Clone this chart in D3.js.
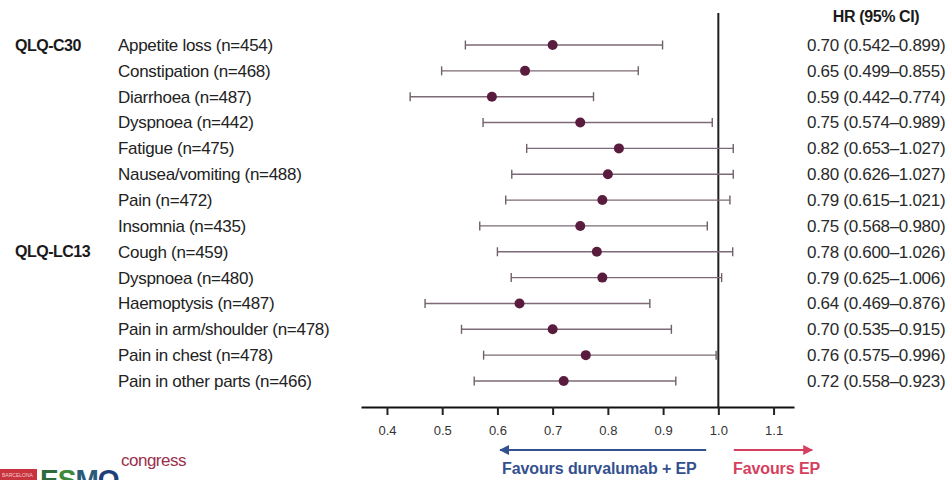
<!DOCTYPE html>
<html>
<head>
<meta charset="utf-8">
<script src="https://cdn.jsdelivr.net/npm/d3@7"></script>
<style>
  html, body { margin: 0; padding: 0; background: #fff; }
  svg { display: block; }
  text { font-family: "Liberation Sans", Arial, sans-serif; }
</style>
</head>
<body>
<svg id="chart" width="948" height="480"></svg>
<script>
// Symptom endpoints (time to deterioration) and hazard ratios with 95% CI
const categories = [
  "Appetite loss (n=454)", "Constipation (n=468)", "Diarrhoea (n=487)",
  "Dyspnoea (n=442)", "Fatigue (n=475)", "Nausea/vomiting (n=488)",
  "Pain (n=472)", "Insomnia (n=435)", "Cough (n=459)", "Dyspnoea (n=480)",
  "Haemoptysis (n=487)", "Pain in arm/shoulder (n=478)",
  "Pain in chest (n=478)", "Pain in other parts (n=466)"
];
const hr    = [0.70, 0.65, 0.59, 0.75, 0.82, 0.80, 0.79, 0.75, 0.78, 0.79, 0.64, 0.70, 0.76, 0.72];
const ciLow = [0.542, 0.499, 0.442, 0.574, 0.653, 0.626, 0.615, 0.568, 0.600, 0.625, 0.469, 0.535, 0.575, 0.558];
const ciHigh= [0.899, 0.855, 0.774, 0.989, 1.027, 1.027, 1.021, 0.980, 1.026, 1.006, 0.876, 0.915, 0.996, 0.923];
const groups = [{ name: "QLQ-C30", row: 0 }, { name: "QLQ-LC13", row: 8 }];
const tickValues = [0.4, 0.5, 0.6, 0.7, 0.8, 0.9, 1.0, 1.1];

const svg = d3.select("#chart");
const x = d3.scaleLinear().domain([0.353, 1.137]).range([361, 794]);
const y = d3.scalePoint().domain(d3.range(categories.length)).range([45, 381]);
const axisY = 407;

const rows = categories.map((c, i) => ({ label: c, hr: hr[i], lo: ciLow[i], hi: ciHigh[i], i }));
const fmt = d3.format(".2f"), fmt3 = d3.format(".3f");

// reference line at HR = 1
svg.append("line")
  .attr("x1", x(1)).attr("x2", x(1))
  .attr("y1", 13).attr("y2", axisY)
  .attr("stroke", "#1e1e1e").attr("stroke-width", 2);

// confidence intervals
const g = svg.append("g");
const row = g.selectAll("g.row").data(rows).join("g").attr("class", "row")
  .attr("transform", d => `translate(0,${y(d.i)})`);
row.append("line")
  .attr("x1", d => x(d.lo)).attr("x2", d => x(d.hi))
  .attr("stroke", "#7d6a76").attr("stroke-width", 1.4);
row.append("line").attr("x1", d => x(d.lo)).attr("x2", d => x(d.lo))
  .attr("y1", -4.5).attr("y2", 4.5).attr("stroke", "#6f6069").attr("stroke-width", 1.4);
row.append("line").attr("x1", d => x(d.hi)).attr("x2", d => x(d.hi))
  .attr("y1", -4.5).attr("y2", 4.5).attr("stroke", "#6f6069").attr("stroke-width", 1.4);
row.append("circle")
  .attr("cx", d => x(d.hr)).attr("r", 5)
  .attr("fill", "#5a1c3e");

// row labels
row.append("text")
  .attr("x", 118).attr("dy", "0.35em")
  .attr("font-size", 17).attr("fill", "#222")
  .attr("letter-spacing", "-0.3")
  .text(d => d.label);

// HR (95% CI) column
row.append("text")
  .attr("x", 807).attr("dy", "0.35em")
  .attr("font-size", 17).attr("fill", "#2a2a2a")
  .attr("letter-spacing", "-0.3")
  .text(d => `${fmt(d.hr)} (${fmt3(d.lo)}\u2013${fmt3(d.hi)})`);

svg.append("text")
  .attr("x", 876).attr("y", 16).attr("dy", "0.35em")
  .attr("text-anchor", "middle").attr("font-size", 16).attr("font-weight", "bold")
  .attr("fill", "#1a1a1a").attr("letter-spacing", "-0.4")
  .text("HR (95% CI)");

// questionnaire group labels
svg.selectAll("text.grp").data(groups).join("text").attr("class", "grp")
  .attr("x", 15).attr("y", d => y(d.row)).attr("dy", "0.35em")
  .attr("font-size", 16).attr("font-weight", "bold").attr("fill", "#1a1a1a")
  .attr("letter-spacing", "-0.5")
  .text(d => d.name);

// x axis
const axis = svg.append("g")
  .attr("transform", `translate(0,${axisY})`)
  .call(d3.axisBottom(x).tickValues(tickValues).tickFormat(d3.format(".1f")).tickSize(8).tickSizeOuter(0));
axis.select(".domain").attr("stroke", "#111").attr("stroke-width", 2.2);
axis.selectAll(".tick line").attr("stroke", "#222").attr("stroke-width", 2);
axis.selectAll(".tick text")
  .attr("font-family", "Liberation Sans, Arial, sans-serif")
  .attr("font-size", 13).attr("fill", "#333").attr("y", 19);

// direction arrows
const defs = svg.append("defs");
function marker(id, color) {
  defs.append("marker").attr("id", id)
    .attr("viewBox", "0 0 10 10").attr("refX", 9).attr("refY", 5)
    .attr("markerWidth", 5).attr("markerHeight", 5).attr("orient", "auto")
    .append("path").attr("d", "M0,0 L10,5 L0,10 z").attr("fill", color);
}
const blue = "#34508f", red = "#d63f5e";
marker("arrBlue", blue);
marker("arrRed", red);
svg.append("line")
  .attr("x1", x(0.978)).attr("x2", x(0.605)).attr("y1", 450).attr("y2", 450)
  .attr("stroke", blue).attr("stroke-width", 2).attr("marker-end", "url(#arrBlue)");
svg.append("line")
  .attr("x1", x(1.028)).attr("x2", x(1.17)).attr("y1", 450).attr("y2", 450)
  .attr("stroke", red).attr("stroke-width", 2).attr("marker-end", "url(#arrRed)");
svg.append("text")
  .attr("x", 502).attr("y", 468).attr("dy", "0.35em")
  .attr("font-family", "'Open Sans', 'Liberation Sans', sans-serif")
  .attr("font-size", 16).attr("font-weight", 600).attr("fill", blue)
  .attr("letter-spacing", "-0.1")
  .text("Favours durvalumab + EP");
svg.append("text")
  .attr("x", 733).attr("y", 468).attr("dy", "0.35em")
  .attr("font-family", "'Open Sans', 'Liberation Sans', sans-serif")
  .attr("font-size", 16).attr("font-weight", 600).attr("fill", red)
  .attr("letter-spacing", "-0.1")
  .text("Favours EP");

// congress logo, lower left (runs off the bottom edge)
const logo = svg.append("g");
logo.append("rect").attr("x", 0).attr("y", 469).attr("width", 37).attr("height", 11).attr("fill", "#c8333d");
logo.append("text").attr("x", 2).attr("y", 477).attr("font-size", 5).attr("fill", "#f3c9cc").text("BARCELONA");
const esmo = [{ c: "E", col: "#2f6b3a" }, { c: "S", col: "#3c8a3a" }, { c: "M", col: "#2a5a7a" }, { c: "O", col: "#1f3f7a" }];
logo.append("text").attr("x", 40).attr("y", 489)
  .attr("font-size", 28).attr("font-weight", "bold").attr("letter-spacing", "-1")
  .selectAll("tspan").data(esmo).join("tspan")
  .attr("fill", d => d.col)
  .text(d => d.c);
logo.append("text").attr("x", 121).attr("y", 466)
  .attr("font-size", 17).attr("fill", "#9a2f4c").attr("letter-spacing", "-0.5")
  .text("congress");
</script>
</body>
</html>
